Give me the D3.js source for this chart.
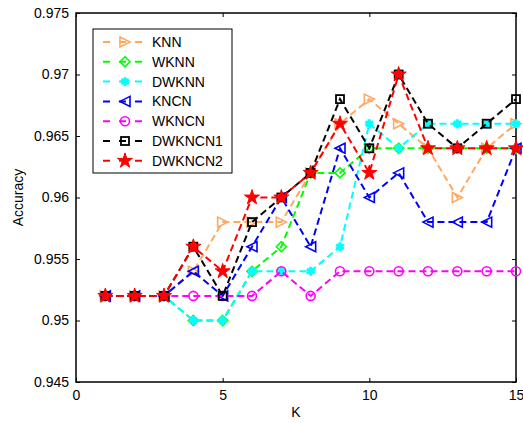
<!DOCTYPE html>
<html>
<head>
<meta charset="utf-8">
<script src="https://cdn.jsdelivr.net/npm/d3@7"></script>
<style>
  body { margin: 0; background: #fff; }
  text { font-family: "Liberation Sans", Arial, sans-serif; }
</style>
</head>
<body>
<div id="chart-area"></div>
<script>
// K values
var kValues = [1, 2, 3, 4, 5, 6, 7, 8, 9, 10, 11, 12, 13, 14, 15];

var knn    = [.952, .952, .952, .954, .958, .958, .958, .962, .966, .968, .966, .964, .960, .964, .966];
var wknn   = [.952, .952, .952, .950, .950, .954, .956, .962, .962, .964, .964, .964, .964, .964, .964];
var dwknn  = [.952, .952, .952, .950, .950, .954, .954, .954, .956, .966, .964, .966, .966, .966, .966];
var kncn   = [.952, .952, .952, .954, .952, .956, .960, .956, .964, .960, .962, .958, .958, .958, .964];
var wkncn  = [.952, .952, .952, .952, .952, .952, .954, .952, .954, .954, .954, .954, .954, .954, .954];
var dwkncn1 = [.952, .952, .952, .956, .952, .958, .960, .962, .968, .964, .970, .966, .964, .966, .968];
var dwkncn2 = [.952, .952, .952, .956, .954, .960, .960, .962, .966, .962, .970, .964, .964, .964, .964];

var seriesNames = ["KNN", "WKNN", "DWKNN", "KNCN", "WKNCN", "DWKNCN1", "DWKNCN2"];
var seriesValues = [knn, wknn, dwknn, kncn, wkncn, dwkncn1, dwkncn2];
var seriesColors = ["#ffa860", "#00ff00", "#00ffff", "#0000ff", "#ff00ff", "#000000", "#ff0000"];
var seriesMarkers = ["right", "diamond", "asterisk", "left", "circle", "square", "star"];

var xTicks = [0, 5, 10, 15];
var yTicks = [0.945, 0.95, 0.955, 0.96, 0.965, 0.97, 0.975];

var width = 523, height = 423;
var pLeft = 76, pRight = 516, pTop = 13, pBottom = 382;

var svg = d3.select("#chart-area").append("svg")
            .attr("width", width)
            .attr("height", height);

const x = d3.scaleLinear().domain([0, 15]).range([pLeft, pRight]);
const y = d3.scaleLinear().domain([0.945, 0.975]).range([pBottom, pTop]);

// axes with inward ticks
svg.append("g").attr("transform", "translate(0," + pBottom + ")")
    .call(d3.axisBottom(x).tickValues(xTicks).tickSizeInner(-4).tickSizeOuter(0).tickPadding(8).tickFormat(d3.format("d")));
svg.append("g").attr("transform", "translate(0," + pTop + ")")
    .call(d3.axisTop(x).tickValues(xTicks).tickSizeInner(-4).tickSizeOuter(0).tickFormat(""));
svg.append("g").attr("transform", "translate(" + pLeft + ",0)")
    .call(d3.axisLeft(y).tickValues(yTicks).tickSizeInner(-4).tickSizeOuter(0).tickPadding(7).tickFormat(d => String(+d.toFixed(3))));
svg.append("g").attr("transform", "translate(" + pRight + ",0)")
    .call(d3.axisRight(y).tickValues(yTicks).tickSizeInner(-4).tickSizeOuter(0).tickFormat(""));

svg.selectAll(".domain").remove();
svg.selectAll(".tick line").attr("stroke", "#000").attr("stroke-width", 1);
svg.selectAll(".tick text").attr("font-size", 14).attr("fill", "#000")
    .style("font-family", "'Liberation Sans', Arial, sans-serif");

svg.append("rect")
    .attr("x", pLeft).attr("y", pTop)
    .attr("width", pRight - pLeft).attr("height", pBottom - pTop)
    .attr("fill", "none").attr("stroke", "#000").attr("stroke-width", 1.5);

svg.append("text").attr("x", (pLeft + pRight) / 2).attr("y", 417)
    .attr("text-anchor", "middle").attr("font-size", 14).text("K");
svg.append("text").attr("transform", "translate(23," + ((pTop + pBottom) / 2) + ") rotate(-90)")
    .attr("text-anchor", "middle").attr("font-size", 14).text("Accuracy");

function drawMarker(g, type, color, cx, cy) {
    var s = 5;
    if (type === "right") {
        g.append("path").attr("d", "M" + (cx - s) + "," + (cy - s) + "L" + (cx + s) + "," + cy + "L" + (cx - s) + "," + (cy + s) + "Z")
            .attr("fill", "none").attr("stroke", color).attr("stroke-width", 1.6);
    } else if (type === "left") {
        g.append("path").attr("d", "M" + (cx + s) + "," + (cy - s) + "L" + (cx - s) + "," + cy + "L" + (cx + s) + "," + (cy + s) + "Z")
            .attr("fill", "none").attr("stroke", color).attr("stroke-width", 1.6);
    } else if (type === "diamond") {
        g.append("path").attr("d", "M" + cx + "," + (cy - s) + "L" + (cx + s) + "," + cy + "L" + cx + "," + (cy + s) + "L" + (cx - s) + "," + cy + "Z")
            .attr("fill", "none").attr("stroke", color).attr("stroke-width", 1.6);
    } else if (type === "circle") {
        g.append("circle").attr("cx", cx).attr("cy", cy).attr("r", 4.5)
            .attr("fill", "none").attr("stroke", color).attr("stroke-width", 1.6);
    } else if (type === "square") {
        g.append("rect").attr("x", cx - 4).attr("y", cy - 4).attr("width", 8).attr("height", 8)
            .attr("fill", "none").attr("stroke", color).attr("stroke-width", 1.8);
    } else if (type === "asterisk") {
        g.append("path").attr("transform", "translate(" + cx + "," + cy + ")")
            .attr("d", d3.symbol(d3.symbolAsterisk, 55)())
            .attr("fill", "none").attr("stroke", color).attr("stroke-width", 3);
        g.append("circle").attr("cx", cx).attr("cy", cy).attr("r", 3).attr("fill", color);
    } else if (type === "star") {
        g.append("path").attr("transform", "translate(" + cx + "," + cy + ")")
            .attr("d", d3.symbol(d3.symbolStar, 70)())
            .attr("fill", color).attr("stroke", color).attr("stroke-width", 1);
    }
}

var line = d3.line().x((d, i) => x(kValues[i])).y(d => y(d));

seriesValues.forEach((vals, si) => {
    var g = svg.append("g");
    g.append("path").datum(vals)
        .attr("d", line)
        .attr("fill", "none")
        .attr("stroke", seriesColors[si])
        .attr("stroke-width", 2)
        .attr("stroke-dasharray", "7,4");
    vals.forEach((v, i) => drawMarker(g, seriesMarkers[si], seriesColors[si], x(kValues[i]), y(v)));
});

// legend
var legend = svg.append("g");
legend.append("rect").attr("x", 93).attr("y", 29).attr("width", 139).attr("height", 144)
    .attr("fill", "#fff").attr("stroke", "#000").attr("stroke-width", 1);
seriesNames.forEach((name, i) => {
    var ly = 42 + i * 19.8;
    legend.append("line").attr("x1", 103).attr("x2", 147).attr("y1", ly).attr("y2", ly)
        .attr("stroke", seriesColors[i]).attr("stroke-width", 2)
        .attr("stroke-dasharray", "7,9");
    drawMarker(legend, seriesMarkers[i], seriesColors[i], 125, ly);
    legend.append("text").attr("x", 152).attr("y", ly + 5)
        .attr("font-size", 14).attr("fill", "#000").text(name);
});
</script>
</body>
</html>
